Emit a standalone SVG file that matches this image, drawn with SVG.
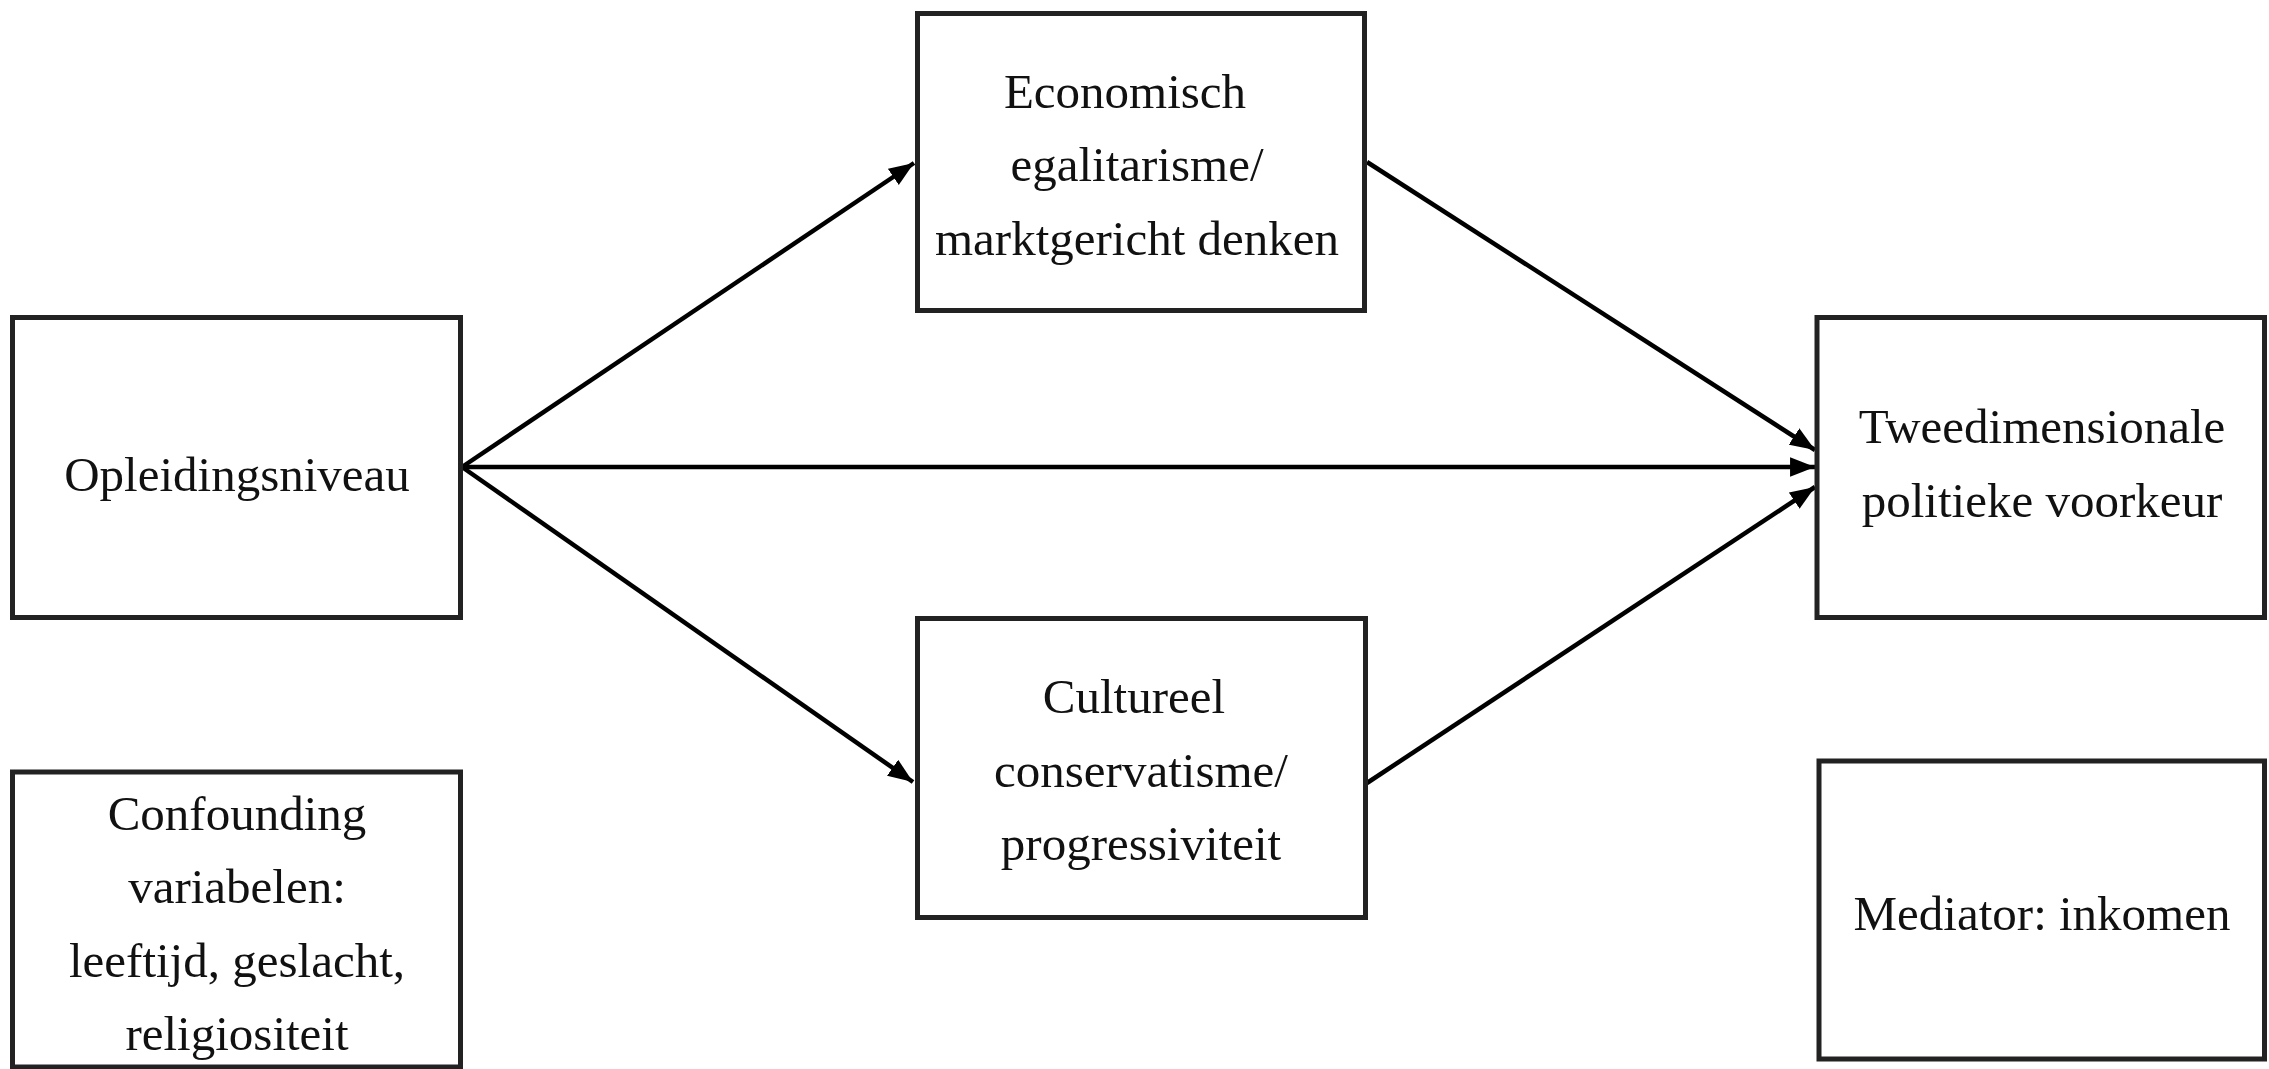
<svg xmlns="http://www.w3.org/2000/svg" width="2269" height="1069" viewBox="0 0 2269 1069">
<style>
.box{fill:#fff;stroke:#222;stroke-width:5}
.lbl{font-family:"Liberation Serif","Times New Roman",serif;font-size:49px;fill:#111;text-anchor:middle}
.con{stroke:#000;stroke-width:4.5;fill:none}
</style>
<defs>
<marker id="ah" markerUnits="userSpaceOnUse" markerWidth="26" markerHeight="20" refX="23" refY="9" orient="auto" viewBox="0 0 24 18">
<path d="M0,0 L23,9 L0,18 z" fill="#000"/>
</marker>
</defs>
<rect width="2269" height="1069" fill="#fff"/>
<g id="connectors">
<line class="con" x1="462" y1="467" x2="914" y2="163" marker-end="url(#ah)"/>
<line class="con" x1="462" y1="467" x2="1815" y2="467" marker-end="url(#ah)"/>
<line class="con" x1="462" y1="467" x2="913" y2="782" marker-end="url(#ah)"/>
<line class="con" x1="1367" y1="162" x2="1815" y2="450" marker-end="url(#ah)"/>
<line class="con" x1="1367" y1="783" x2="1815" y2="487" marker-end="url(#ah)"/>
</g>
<g id="opleidingsniveau">
<rect class="box" x="12.5" y="317.5" width="448" height="300"/>
<text class="lbl" x="237" y="491">Opleidingsniveau</text>
</g>
<g id="economisch">
<rect class="box" x="917.5" y="13.5" width="447" height="297"/>
<text class="lbl" x="1125" y="108">Economisch</text>
<text class="lbl" x="1137" y="181">egalitarisme/</text>
<text class="lbl" x="1137" y="255">marktgericht denken</text>
</g>
<g id="cultureel">
<rect class="box" x="917.5" y="618.5" width="448" height="299"/>
<text class="lbl" x="1134" y="713">Cultureel</text>
<text class="lbl" x="1141" y="787">conservatisme/</text>
<text class="lbl" x="1141" y="860">progressiviteit</text>
</g>
<g id="tweedimensionale">
<rect class="box" x="1817" y="317.5" width="447.5" height="300"/>
<text class="lbl" x="2042" y="443">Tweedimensionale</text>
<text class="lbl" x="2042" y="517">politieke voorkeur</text>
</g>
<g id="confounding">
<rect class="box" x="12.5" y="772" width="448" height="295"/>
<text class="lbl" x="237" y="830">Confounding</text>
<text class="lbl" x="237" y="903">variabelen:</text>
<text class="lbl" x="237" y="977">leeftijd, geslacht,</text>
<text class="lbl" x="237" y="1050">religiositeit</text>
</g>
<g id="mediator">
<rect class="box" x="1819" y="761" width="445.5" height="298"/>
<text class="lbl" x="2042" y="930">Mediator: inkomen</text>
</g>
</svg>
